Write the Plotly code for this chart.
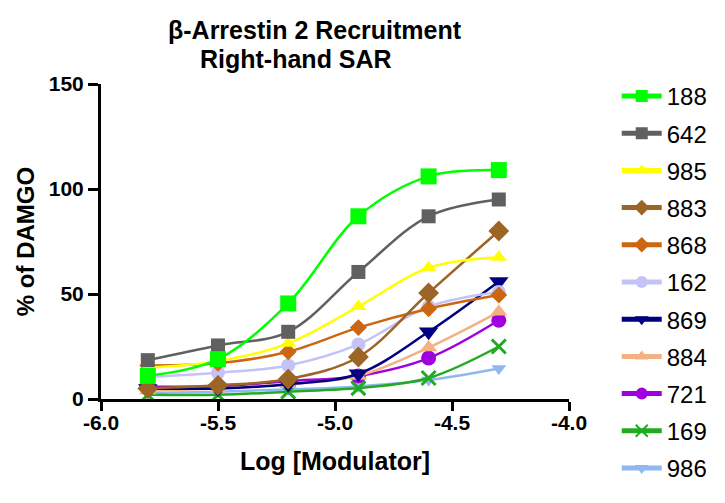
import plotly.graph_objects as go

log_conc = [-5.8, -5.5, -5.2, -4.9, -4.6, -4.3]

compounds = ["188", "642", "985", "883", "868", "162", "869", "884", "721", "169", "986"]
v188 = [11, 19, 45.5, 87, 106, 109]
v642 = [18.5, 25.5, 32, 60.5, 87, 95]
v985 = [15, 18, 26.5, 44, 62.5, 67.5]
v883 = [5, 6.5, 9.5, 20, 50.5, 80]
v868 = [16, 17, 22.5, 34, 43, 49.5]
v162 = [10.5, 12.5, 16, 26, 44, 51]
v869 = [5, 5, 7, 12, 32, 56]
v884 = [4, 5, 7, 11, 24.5, 41.5]
v721 = [6, 6, 8.5, 11, 19.5, 37.5]
v169 = [2, 2, 3.5, 5.2, 10, 25]
v986 = [3, 3.5, 4.5, 6, 9, 14.5]
values = [v188, v642, v985, v883, v868, v162, v869, v884, v721, v169, v986]

x_ticks = [-6.0, -5.5, -5.0, -4.5, -4.0]
x_ticktext = ["-6.0", "-5.5", "-5.0", "-4.5", "-4.0"]
y_ticks = [0, 50, 100, 150]

colors = ["#00FF00", "#606060", "#FFFF00", "#9C6425", "#CC6611", "#C3C3F5",
          "#000080", "#F4B183", "#A000DD", "#22AA22", "#8FB8F0"]
symbols = ["square", "square", "triangle-up", "diamond", "diamond", "circle",
           "triangle-down", "triangle-up", "circle", "x-thin-open", "triangle-down"]
sizes = [16, 14, 14, 16, 13, 14, 17, 15, 15, 14, 13]

fig = go.Figure()
for i in reversed(range(len(compounds))):
    mk = dict(symbol=symbols[i], size=sizes[i], color=colors[i])
    if symbols[i] == "x-thin-open":
        mk["line"] = dict(color=colors[i], width=3)
    fig.add_trace(go.Scatter(
        x=log_conc, y=values[i], name=compounds[i],
        mode="lines+markers", line=dict(color=colors[i], width=2.5, shape="spline", smoothing=1.0),
        marker=mk, legendrank=i + 1, legendgroup=compounds[i],
    ))

font_family = "Liberation Sans, Arial, sans-serif"
fig.update_layout(
    width=725, height=503,
    margin=dict(l=101, r=152, t=84, b=104),
    paper_bgcolor="white", plot_bgcolor="white",
    font=dict(family=font_family, color="black"),
    showlegend=True,
    legend=dict(x=1.102, xanchor="left", y=1.032, yanchor="top",
                font=dict(size=24, color="black", family=font_family),
                tracegroupgap=3, itemwidth=40, itemsizing="constant",
                maxheight=480, bgcolor="rgba(0,0,0,0)"),
    xaxis=dict(range=[-6.0, -4.0], tickvals=x_ticks, ticktext=x_ticktext,
               showgrid=False, zeroline=False, showline=True, linecolor="black", linewidth=3,
               ticks="outside", ticklen=9, tickwidth=3, tickcolor="black", ticklabelstandoff=-6,
               tickfont=dict(size=21, family=font_family, weight="bold"),
               title=dict(text="<b>Log [Modulator]</b>", font=dict(size=25), standoff=20)),
    yaxis=dict(range=[0, 150], tickvals=y_ticks,
               showgrid=False, zeroline=False, showline=True, linecolor="black", linewidth=3,
               ticks="outside", ticklen=10, tickwidth=3, tickcolor="black",
               tickfont=dict(size=21, family=font_family, weight="bold"),
               title=dict(text="<b>% of DAMGO</b>", font=dict(size=24), standoff=8)),
    annotations=[
        dict(text="<b>β-Arrestin 2 Recruitment</b>", x=0.4576, y=1.17, xref="paper", yref="paper",
             showarrow=False, font=dict(size=25), xanchor="center", yanchor="middle"),
        dict(text="<b>Right-hand SAR</b>", x=0.417, y=1.08, xref="paper", yref="paper",
             showarrow=False, font=dict(size=25), xanchor="center", yanchor="middle"),
    ],
)
fig.write_html("out.html")
